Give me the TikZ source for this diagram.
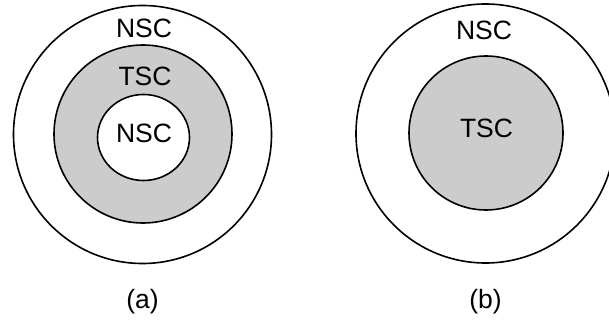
\documentclass[tikz,border=0pt]{standalone}
\usepackage{fontspec}
\setmainfont{Liberation Sans}
\usetikzlibrary{shapes.geometric}
\definecolor{tscgray}{RGB}{204,204,204}
\begin{document}
\begin{tikzpicture}[x=1pt,y=-1pt,
  ring/.style={draw=black, line width=1.6pt, inner sep=0pt, fill=white},
  core/.style={ring, fill=tscgray},
  lab/.style={font=\fontsize{26.5}{30}\selectfont, inner sep=0pt}]
\useasboundingbox (0,0) rectangle (609,320);
\clip (0,0) rectangle (609,320);
% (a)
\node[ring, circle, minimum size=258pt] (aout) at (142.5,134.5) {};
\node[core, circle, minimum size=178pt] (amid) at (143,134) {};
\node[ring, ellipse, minimum width=92pt, minimum height=86pt] (ain) at (143.5,137.5) {};
\node[lab] (ansc1) at (144,28) {NSC};
\node[lab] (atsc) at (145,76.5) {TSC};
\node[lab] (ansc2) at (144,133) {NSC};
\node[lab] (acap) at (142.5,302) {(a)};
% (b)
\node[ring, circle, minimum size=259pt] (bout) at (485.5,133.5) {};
\node[core, circle, minimum size=154pt] (bmid) at (486,133) {};
\node[lab] (bnsc) at (484,30) {NSC};
\node[lab] (btsc) at (486.5,128) {TSC};
\node[lab] (bcap) at (485.5,302) {(b)};
\end{tikzpicture}
\end{document}
